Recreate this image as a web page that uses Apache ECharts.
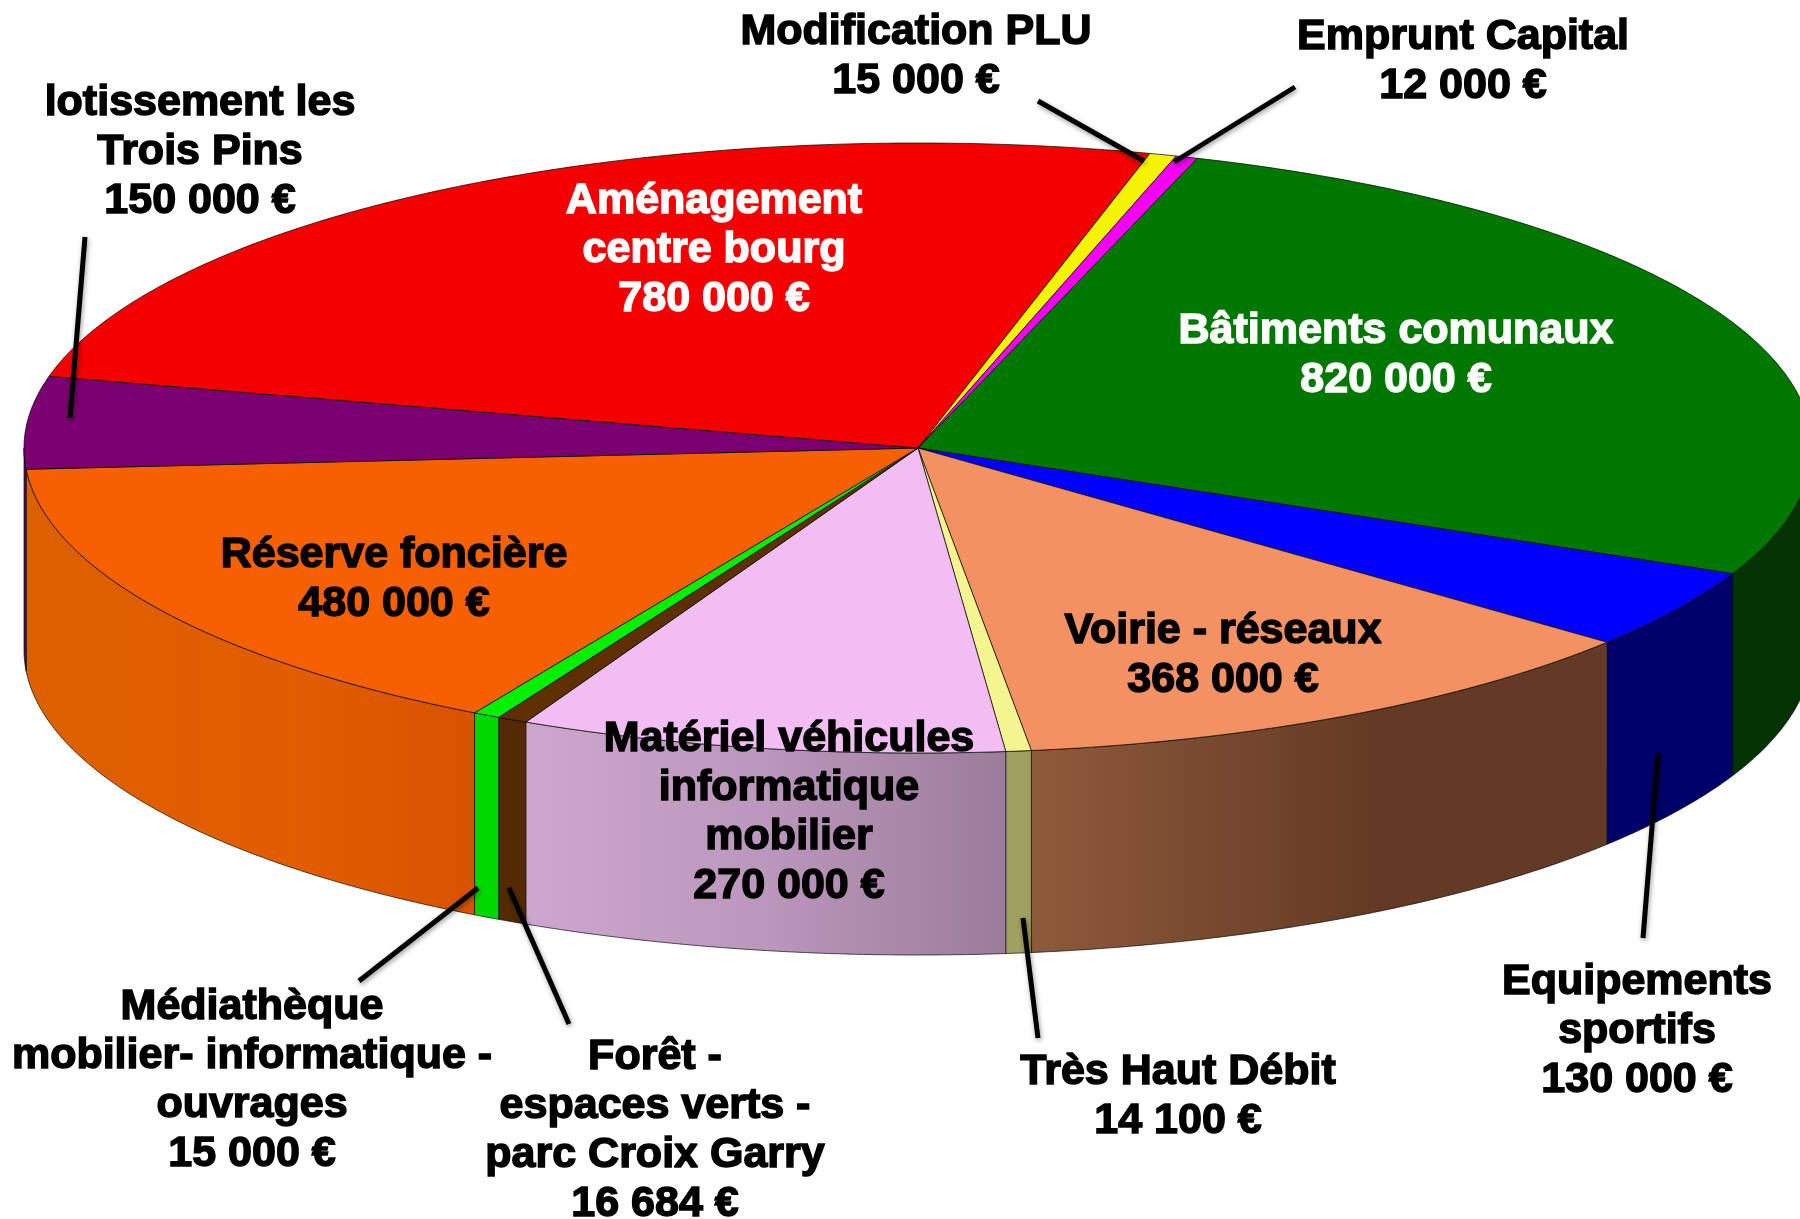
<!DOCTYPE html>
<html>
<head>
<meta charset="utf-8">
<title>Budget</title>
<script src="https://cdn.jsdelivr.net/npm/echarts@6/dist/echarts.min.js"></script>
<style>html,body{margin:0;padding:0;background:#fff}#c{width:1800px;height:1219px}</style>
</head>
<body>
<div id="c"></div>
<script>
// ---- data, clockwise from the large green slice ----
const categories = [
  'Bâtiments comunaux',
  'Equipements\nsportifs',
  'Voirie - réseaux',
  'Très Haut Débit',
  'Matériel véhicules\ninformatique\nmobilier',
  'Forêt -\nespaces verts -\nparc Croix Garry',
  'Médiathèque\nmobilier- informatique -\nouvrages',
  'Réserve foncière',
  'lotissement les\nTrois Pins',
  'Aménagement\ncentre bourg',
  'Modification PLU',
  'Emprunt Capital'
];
const values = [820000, 130000, 368000, 14100, 270000, 16684, 15000, 480000, 150000, 780000, 15000, 12000];

// ---- styles ----
const topColors = ['#007800','#0000ff','#f49162','#f4f490','#f2bdf2','#5e3000','#00f000','#f56000','#7a0072','#f50000','#f4f400','#f400f4'];
const wallStops = [
  [[0,'#023300'],[1,'#023300']],
  [[0,'#00006a'],[1,'#00006a']],
  [[0,'#8e5a3c'],[0.6,'#643a24'],[1,'#633a27']],
  [[0,'#a0a060'],[1,'#a0a060']],
  [[0,'#cda6cd'],[0.5,'#bb97bb'],[1,'#9b7c9b']],
  [[0,'#542a00'],[1,'#542a00']],
  [[0,'#00d800'],[1,'#00d800']],
  [[0,'#dc6000'],[0.6,'#e25c00'],[1,'#d85300']],
  [[0,'#6a0062'],[1,'#6a0062']],
  [[0,'#d00000'],[1,'#d00000']],
  [[0,'#d0d000'],[1,'#d0d000']],
  [[0,'#d000d0'],[1,'#d000d0']]
];
const labelColors = ['#fff','#000','#000','#000','#000','#000','#000','#000','#000','#fff','#000','#000'];

// ---- layout of the tilted disc (px) ----
const CX = 918, CY = 448, RX = 894, RY = 305, DEPTH = 202, START_DEG = 18.2;
// label block centres and leader lines
const labelPos = [[1396,356],[1637,1031],[1223,656],[1178,1097],[789,813],[655,1131],[252,1081],[394,580],[200,152],[714,250],[916,57],[1463,62]];
const leaders = [null,[[1643,938],[1658,753]],null,[[1038,1038],[1023,918]],null,[[569,1024],[509,888]],[[359,981],[478,888]],null,[[85,237],[70,418]],null,[[1038,101],[1144,161]],[[1295,87],[1174,162]]];

const total = values.reduce((a, b) => a + b, 0);
const startAngles = [];
values.reduce((acc, v, i) => { startAngles[i] = acc; return acc + v / total * 360; }, START_DEG);

function rim(deg, dy) {
  const a = deg * Math.PI / 180;
  return [CX + RX * Math.sin(a), CY + dy - RY * Math.cos(a)];
}
function arc(a0, a1, dy) {
  const n = Math.max(2, Math.ceil(Math.abs(a1 - a0) * 2));
  const pts = [];
  for (let k = 0; k <= n; k++) pts.push(rim(a0 + (a1 - a0) * k / n, dy));
  return pts;
}
function money(v) { return String(v).replace(/\B(?=(\d{3})+$)/g, ' ') + ' €'; }

function renderSlice(params, api) {
  const i = params.dataIndex;
  const a0 = startAngles[i];
  const a1 = a0 + api.value(0) / total * 360;
  const children = [];
  // the wall is visible only on the front half of the disc (90..270 deg)
  const w0 = Math.max(a0, 90), w1 = Math.min(a1, 270);
  if (w1 > w0) {
    const pts = arc(w0, w1, 0).concat(arc(w1, w0, DEPTH));
    children.push({
      type: 'polygon',
      shape: { points: pts },
      style: {
        fill: { type: 'linear', x: 0, y: 0, x2: 1, y2: 0, colorStops: wallStops[i].map(s => ({ offset: s[0], color: s[1] })) },
        stroke: 'rgba(0,0,0,0.65)', lineWidth: 1
      }
    });
  }
  children.push({
    type: 'polygon',
    shape: { points: [[CX, CY]].concat(arc(a0, a1, 0)) },
    style: { fill: topColors[i], stroke: 'rgba(0,0,0,0.7)', lineWidth: 1 }
  });
  return { type: 'group', children };
}

function renderLabel(params, api) {
  const i = params.dataIndex;
  const children = [];
  if (leaders[i]) {
    children.push({
      type: 'line',
      shape: { x1: leaders[i][0][0], y1: leaders[i][0][1], x2: leaders[i][1][0], y2: leaders[i][1][1] },
      style: { stroke: '#000', lineWidth: 5, shadowBlur: 5, shadowColor: 'rgba(0,0,0,0.4)', shadowOffsetX: 1, shadowOffsetY: 2 }
    });
  }
  children.push({
    type: 'text',
    style: {
      text: categories[i] + '\n' + money(api.value(0)),
      x: labelPos[i][0], y: labelPos[i][1],
      align: 'center', verticalAlign: 'middle',
      fontFamily: '"Liberation Sans", Arial, sans-serif', fontWeight: 'bold', fontSize: 43,
      lineHeight: 49,
      fill: labelColors[i], stroke: labelColors[i], lineWidth: 1.5
    }
  });
  return { type: 'group', children };
}

const chart = echarts.init(document.getElementById('c'), null, { renderer: 'canvas' });
chart.setOption({
  animation: false,
  backgroundColor: '#fff',
  series: [
    { type: 'custom', name: 'slices', coordinateSystem: 'none', renderItem: renderSlice, data: values.map((v, i) => ({ name: categories[i], value: [v] })), z: 1, silent: true },
    { type: 'custom', name: 'labels', coordinateSystem: 'none', renderItem: renderLabel, data: values.map((v, i) => ({ name: categories[i], value: [v] })), z: 2, silent: true }
  ]
});
</script>
</body>
</html>
